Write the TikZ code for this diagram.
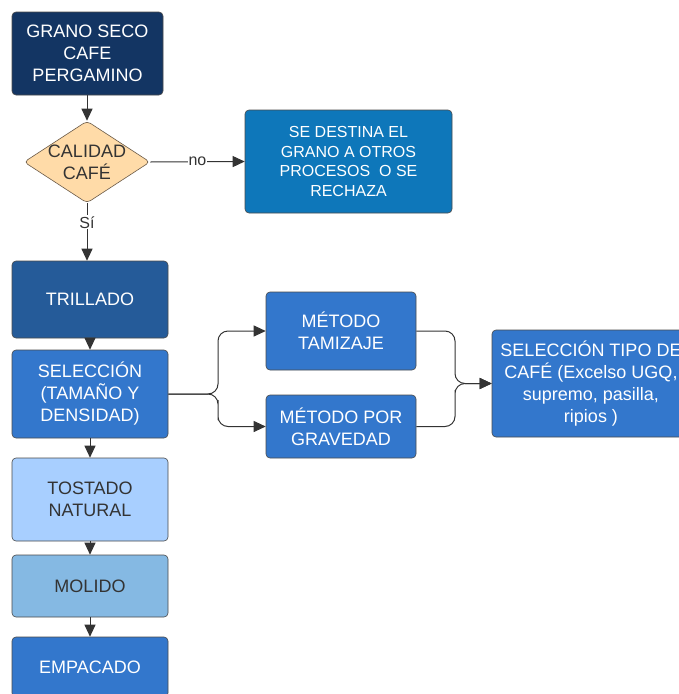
\documentclass[tikz,border=0pt]{standalone}
\usepackage{fontspec}
\setmainfont{Liberation Sans}
\usetikzlibrary{arrows.meta,shapes.geometric}
\definecolor{navy}{HTML}{133563}
\definecolor{sand}{HTML}{FFDBA8}
\definecolor{sandline}{HTML}{6A5A48}
\definecolor{rechblue}{HTML}{0E77BA}
\definecolor{triblue}{HTML}{255B99}
\definecolor{midblue}{HTML}{3377CC}
\definecolor{paleblue}{HTML}{A8CFFF}
\definecolor{molblue}{HTML}{85B9E3}
\definecolor{edge}{HTML}{333333}
\definecolor{boxline}{HTML}{4A4A4A}
\tikzset{
  box/.style={draw=boxline, line width=0.6pt, rounded corners=4pt, align=center, inner sep=2pt,
    font=\fontsize{18}{22}\selectfont, text=white},
  dia/.style={diamond, draw=sandline, fill=sand, line width=0.6pt, rounded corners=4pt, inner sep=0pt},
  conn/.style={draw=edge, line width=1pt, -{Triangle[length=12pt,width=11pt]}},
  lbl/.style={fill=white, inner sep=1pt, text=edge, font=\fontsize{16}{18}\selectfont}
}
\begin{document}
\begin{tikzpicture}[x=1pt,y=-1pt]
\useasboundingbox (0,0) rectangle (679,694);
\clip (0,0) rectangle (679,694);
\node[box, fill=navy, minimum width=151pt, minimum height=83pt] (grano) at (87.5,53.5) {GRANO SECO\\CAFE\\PERGAMINO};
\node[dia, minimum width=126pt, minimum height=82pt] (cal) at (87,162) {};
\node[align=center, text=edge, font=\fontsize{18}{22}\selectfont] (caltxt) at (cal) {CALIDAD\\CAFÉ};
\node[box, fill=rechblue, minimum width=207pt, minimum height=103pt, font=\fontsize{16}{19.5}\selectfont] (rech) at (348.5,161.5) {SE DESTINA EL\\GRANO A OTROS\\PROCESOS\ \ O SE\\RECHAZA};
\node[box, fill=triblue, minimum width=156pt, minimum height=77pt] (tri) at (90,299.5) {TRILLADO};
\node[box, fill=midblue, minimum width=156pt, minimum height=88pt] (sel) at (90,394) {SELECCIÓN\\(TAMAÑO Y\\DENSIDAD)};
\node[box, fill=paleblue, text=edge, minimum width=156pt, minimum height=83pt] (tos) at (90,499.5) {TOSTADO\\NATURAL};
\node[box, fill=molblue, text=edge, minimum width=156pt, minimum height=62pt] (mol) at (90,586) {MOLIDO};
\node[box, fill=midblue, minimum width=156pt, minimum height=60pt] (emp) at (90,667) {EMPACADO};
\node[box, fill=midblue, minimum width=150pt, minimum height=78pt] (tam) at (341,331) {MÉTODO\\TAMIZAJE};
\node[box, fill=midblue, minimum width=150pt, minimum height=63pt] (grav) at (341,426.5) {MÉTODO POR\\GRAVEDAD};
\node[box, fill=midblue, minimum width=198pt, minimum height=107pt] (tipo) at (591,383.5) {SELECCIÓN TIPO DE\\CAFÉ (Excelso UGQ,\\supremo, pasilla,\\ripios )};
% connectors
\draw[conn] (grano.south -| cal.north) -- (cal.north);
\draw[conn] (cal.east) -- node[lbl, pos=0.5] {no} (rech.west);
\draw[conn] (cal.south) -- node[lbl, pos=0.33] {Sí} (cal.south |- tri.north);
\draw[conn] (tri.south) -- (sel.north);
\draw[conn] (sel.south) -- (tos.north);
\draw[conn] (tos.south) -- (mol.north);
\draw[conn] (mol.south) -- (emp.north);
\draw[conn, rounded corners=10pt] (sel.east) -| (218,360) |- (tam.west);
\draw[conn, rounded corners=10pt] (sel.east) -| (218,410) |- (grav.west);
\draw[conn, rounded corners=10pt] (tam.east) -| (455,360) |- (tipo.west);
\draw[conn, rounded corners=10pt] (grav.east) -| (455,400) |- (tipo.west);
\end{tikzpicture}
\end{document}
